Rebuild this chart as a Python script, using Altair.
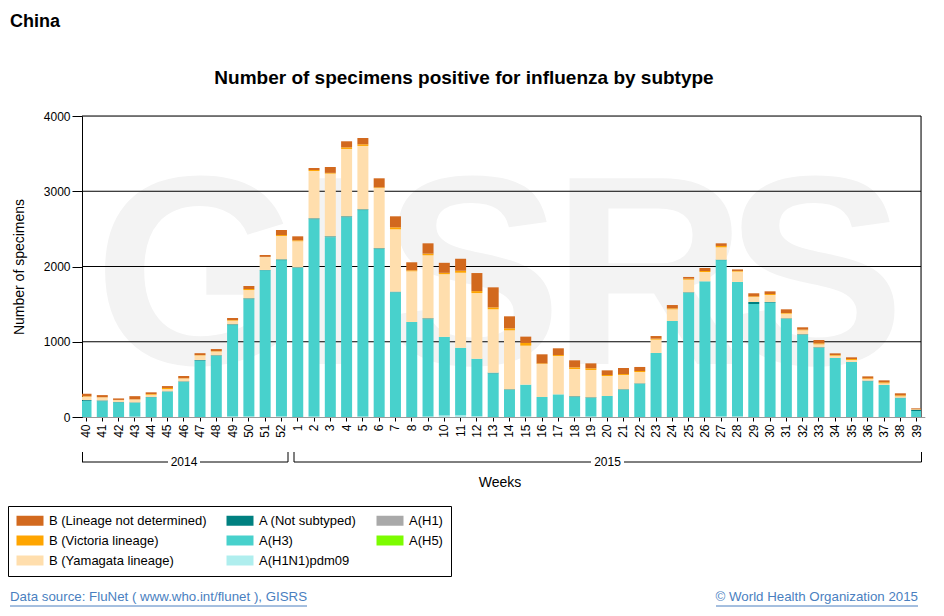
import altair as alt
import pandas as pd

# ---------------- data ----------------
weeks = ["40", "41", "42", "43", "44", "45", "46", "47", "48", "49", "50", "51", "52",
         "1", "2", "3", "4", "5", "6", "7", "8", "9", "10", "11", "12", "13", "14",
         "15", "16", "17", "18", "19", "20", "21", "22", "23", "24", "25", "26", "27",
         "28", "29", "30", "31", "32", "33", "34", "35", "36", "37", "38", "39"]

a_h1n1pdm09 = [0, 0, 0, 5, 0, 0, 0, 0, 0, 5, 5, 0, 5,
               0, 8, 0, 0, 8, 0, 0, 0, 8, 20, 22, 10, 0, 0,
               6, 0, 0, 6, 6, 0, 0, 0, 0, 0, 0, 0, 6,
               6, 0, 0, 0, 0, 0, 0, 0, 0, 0, 0, 0]
a_h3 = [215, 210, 195, 183, 262, 335, 465, 750, 812, 1217, 1560, 1950, 2080,
        1980, 2620, 2390, 2655, 2742, 2232, 1658, 1263, 1292, 1045, 898, 764, 580, 360,
        424, 266, 301, 259, 246, 279, 360, 440, 851, 1276, 1650, 1803, 2079,
        1789, 1502, 1520, 1303, 1090, 918, 784, 731, 475, 425, 250, 80]
a_not_subtyped = [10, 10, 5, 6, 4, 6, 8, 8, 8, 10, 12, 4, 10,
                  9, 12, 11, 12, 10, 10, 8, 0, 11, 0, 0, 0, 9, 8,
                  0, 0, 0, 10, 9, 0, 8, 7, 0, 0, 7, 0, 6,
                  0, 26, 8, 8, 9, 8, 0, 0, 8, 0, 7, 15]
b_yamagata = [45, 40, 25, 38, 30, 30, 38, 60, 50, 48, 110, 172, 310,
              346, 629, 833, 895, 842, 801, 828, 673, 838, 833, 997, 873, 842, 784,
              518, 438, 510, 363, 364, 266, 190, 151, 177, 155, 168, 124, 164,
              137, 67, 93, 62, 53, 40, 31, 27, 22, 22, 18, 5]
b_victoria = [5, 3, 2, 3, 10, 15, 4, 5, 5, 8, 14, 2, 13,
              13, 13, 10, 22, 22, 9, 27, 13, 22, 18, 27, 26, 26, 26,
              36, 9, 13, 22, 22, 13, 13, 13, 13, 13, 13, 13, 18,
              9, 9, 13, 9, 9, 13, 9, 13, 9, 14, 13, 3]
b_not_determined = [35, 28, 20, 42, 22, 25, 30, 25, 28, 28, 40, 25, 67,
                    53, 27, 78, 80, 84, 120, 146, 107, 137, 133, 159, 240, 266, 160,
                    84, 120, 89, 93, 66, 62, 80, 54, 35, 44, 23, 40, 35,
                    20, 40, 36, 49, 31, 44, 22, 22, 26, 26, 27, 12]

# stacking order (bottom -> top)
stack_series = [
    ("A(H1N1)pdm09", a_h1n1pdm09),
    ("A(H3)", a_h3),
    ("A (Not subtyped)", a_not_subtyped),
    ("B (Yamagata lineage)", b_yamagata),
    ("B (Victoria lineage)", b_victoria),
    ("B (Lineage not determined)", b_not_determined),
]

# legend order (column-major, 3 columns)
legend_names = ["B (Lineage not determined)", "B (Victoria lineage)", "B (Yamagata lineage)",
                "A (Not subtyped)", "A(H3)", "A(H1N1)pdm09",
                "A(H1)", "A(H5)"]
legend_colors = ["#D2691E", "#FFA500", "#FFDEAD",
                 "#008080", "#48D1CC", "#AFEEEE",
                 "#A9A9A9", "#7CFC00"]

y_ticks = [0, 1000, 2000, 3000, 4000]
grid_vals = [1000, 2000, 3000, 4000]

rows = []
for k, (name, vals) in enumerate(stack_series):
    for w, v in zip(weeks, vals):
        rows.append({"week": w, "series": name, "value": v, "stack": k})
df = pd.DataFrame(rows)

FONT = "Liberation Sans"
W, H = 839, 301


def one(t=""):
    return alt.Chart(pd.DataFrame({"t": [t]}))


def text(t, x, y, size=12, weight="normal", align="center", color="black", angle=0, font=FONT):
    kw = dict(fontSize=size, fontWeight=weight, align=align, baseline="middle",
              color=color, font=font)
    if angle:
        kw["angle"] = angle
    return one(t).mark_text(**kw).encode(text="t:N", x=alt.value(x), y=alt.value(y))


def hline(x1, x2, y, color="black", w=1):
    return one().mark_rule(color=color, strokeWidth=w).encode(
        x=alt.value(x1), x2=alt.value(x2), y=alt.value(y))


def vline(x, y1, y2, color="black", w=1):
    return one().mark_rule(color=color, strokeWidth=w).encode(
        x=alt.value(x), y=alt.value(y1), y2=alt.value(y2))


y_axis = alt.Axis(values=y_ticks, grid=False, title=None, tickSize=10,
                  tickColor="black", domainColor="black", labelPadding=2,
                  labelFontSize=12, labelFont=FONT, labelColor="black", format="d")
y_scale = alt.Scale(domain=[0, 4000], nice=False)

# watermark
wm_font = "Liberation Sans Narrow, Arial Narrow, Liberation Sans"
watermark = [
    one(ch).mark_text(fontSize=270, fontWeight="bold", font=wm_font, color="#f3f3f3",
                      align="center", baseline="alphabetic").encode(
        text="t:N", x=alt.value(xx), y=alt.value(248))
    for ch, xx in [("G", 117), ("I", 248), ("S", 390), ("R", 567), ("S", 733)]
]

grid = alt.Chart(pd.DataFrame({"v": grid_vals})).mark_rule(color="black", strokeWidth=1).encode(
    y=alt.Y("v:Q", scale=y_scale, axis=y_axis))

right_border = vline(W, 0, H)

bars = alt.Chart(df).mark_bar(clip=True).encode(
    x=alt.X("week:N", sort=weeks,
            scale=alt.Scale(range=[-4.14, 842.8], paddingInner=0.325, paddingOuter=0.1625),
            axis=alt.Axis(title=None, labelAngle=270, labelFontSize=12, labelFont=FONT,
                          labelColor="black", tickSize=4, tickColor="black",
                          labelPadding=3, domainColor="#999999", labelOverlap=False)),
    y=alt.Y("value:Q", stack="zero", scale=y_scale, axis=y_axis),
    color=alt.Color("series:N",
                    scale=alt.Scale(domain=legend_names, range=legend_colors),
                    legend=alt.Legend(title=None, orient="none", legendX=-74, legendY=390,
                                      direction="vertical", columns=3, columnPadding=19,
                                      rowPadding=6, padding=8, strokeColor="black",
                                      symbolType="M-1,-0.833H3.5V0.833H-1Z", symbolSize=144,
                                      symbolStrokeWidth=0, symbolOpacity=1,
                                      labelFontSize=13, labelFont=FONT, labelColor="black",
                                      labelOffset=20, labelLimit=300)),
    order=alt.Order("stack:Q", sort="ascending"),
)

LINK = "#4A7FBF"
annotations = [
    text("China", -72, -94, size=18, weight="bold", align="left"),
    text("Number of specimens positive for influenza by subtype", 382, -38, size=19, weight="bold"),
    text("Number of specimens", -62, 151, size=14, angle=270),
    # year brackets
    hline(0, 86, 346), hline(118, 206, 346), vline(0.5, 336, 346), vline(206, 336, 346),
    text("2014", 102, 346, size=12),
    hline(212, 509, 346), hline(542, 839.5, 346), vline(212, 336, 346), vline(839.5, 336, 346),
    text("2015", 525.5, 346, size=12),
    text("Weeks", 418, 367, size=14),
    # footer
    text("Data source: FluNet ( www.who.int/flunet ), GISRS", -72, 481, size=13.3, align="left", color=LINK),
    hline(-72, 225, 490, color=LINK),
    text("\u00a9 World Health Organization 2015", 836, 481, size=13.3, align="right", color=LINK),
    hline(634, 836, 490, color=LINK),
]

chart = alt.layer(*watermark, grid, right_border, bars, *annotations).properties(
    width=W, height=H,
    padding={"left": 74, "top": 108, "right": 15, "bottom": 191},
    autosize=alt.AutoSizeParams(type="none"),
).configure_view(stroke=None).configure(font=FONT, background="white")

chart.save("out.html", embed_options={"renderer": "svg", "actions": False})
